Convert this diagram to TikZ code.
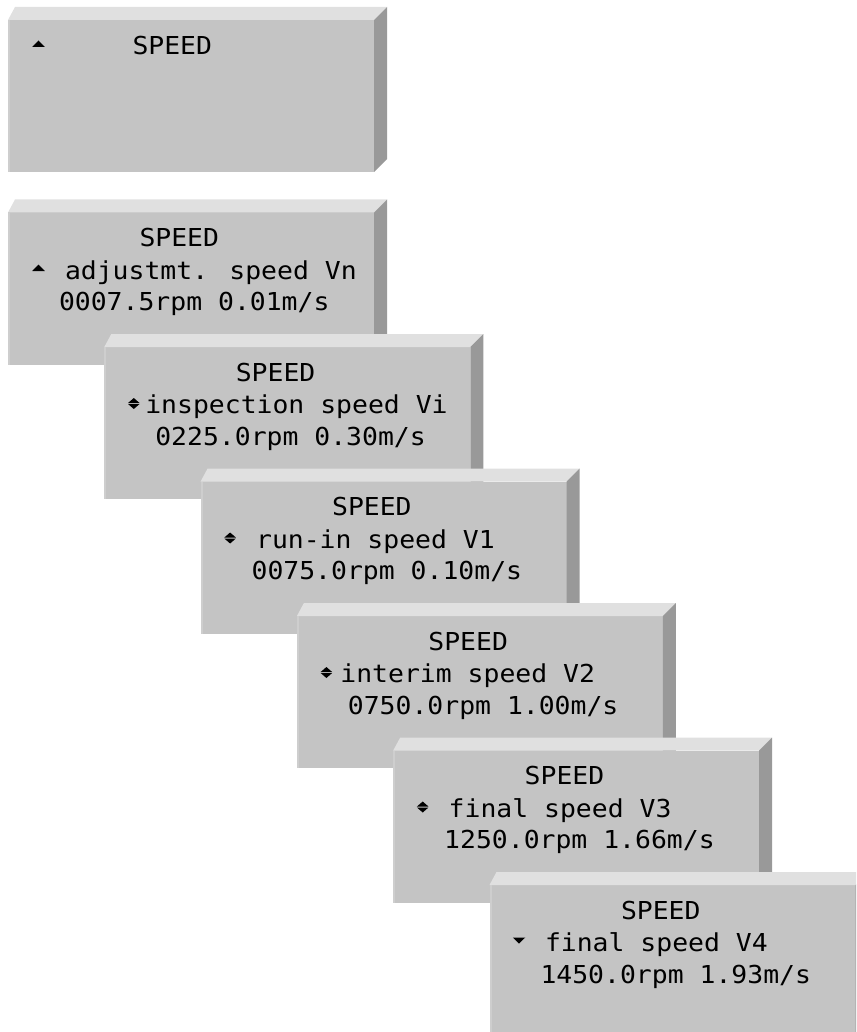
\documentclass[tikz,border=0pt]{standalone}
\usepackage{fontspec}
\newfontfamily\lcd{DejaVu Sans Mono}[FakeStretch=1.07]
\definecolor{frontc}{RGB}{196,196,196}
\definecolor{topc}{RGB}{224,224,224}
\definecolor{sidec}{RGB}{153,153,153}
\definecolor{edgec}{RGB}{206,206,206}
\tikzset{
  front/.style={fill=frontc, draw=none, minimum width=366pt, minimum height=152pt,
    inner sep=0pt, outer sep=0pt, anchor=north west},
  lcdtext/.style={anchor=base west, inner sep=0pt, outer sep=0pt,
    font=\lcd\fontsize{24.7}{30}\selectfont},
  topface/.style={fill=topc},
  sideface/.style={fill=sidec},
  tri/.style={fill=black},
}
\newcommand\lcdpanel[1]{%
  \node[front] (#1) at (0,0) {};
  \fill[topface] (#1.north west) -- ++(7,-13) -- ([shift={(13,-13)}]#1.north east) -- (#1.north east) -- cycle;
  \fill[sideface] (#1.north east) -- ++(13,-13) -- ([shift={(13,-13)}]#1.south east) -- (#1.south east) -- cycle;
  \fill[edgec] (#1.north west) rectangle ([xshift=2pt]#1.south west);
}
% arrows: #1 = x centre, #2 = baseline
\newcommand\uptri[2]{\fill[tri] (#1-6.25,#2-8) -- (#1+6.25,#2-8) -- (#1,#2-14.5) -- cycle;}
\newcommand\dntri[2]{\fill[tri] (#1-6.25,#2-14) -- (#1+6.25,#2-14) -- (#1,#2-8) -- cycle;}
\newcommand\updntri[2]{%
  \fill[tri] (#1-5.75,#2-10.5) -- (#1+5.75,#2-10.5) -- (#1,#2-15.5) -- cycle;
  \fill[tri] (#1-5.75,#2-9.5) -- (#1+5.75,#2-9.5) -- (#1,#2-4.5) -- cycle;}
\begin{document}
\begin{tikzpicture}[x=1pt,y=-1pt]
\useasboundingbox (0,0) rectangle (856,1032);
\clip (0,0) rectangle (856,1032);
% panel 1
\begin{scope}[shift={(8,20)}]
  \lcdpanel{p1}
  \uptri{30.5}{35}
  \node[lcdtext] (p1a) at (124.5,35) {SPEED};
\end{scope}
% panel 2
\begin{scope}[shift={(8,212.5)}]
  \lcdpanel{p2}
  \node[lcdtext] (p2a) at (131.5,34) {SPEED};
  \uptri{30.5}{66.5}
  \node[lcdtext] (p2b) at (57,66.5) {adjustmt. speed Vn};
  \node[lcdtext] (p2c) at (51,98) {0007.5rpm 0.01m/s};
\end{scope}
% panel 3
\begin{scope}[shift={(104.3,347)}]
  \lcdpanel{p3}
  \node[lcdtext] (p3a) at (131.5,34) {SPEED};
  \updntri{29.5}{66.5}
  \node[lcdtext] (p3b) at (41,66.5) {inspection speed Vi};
  \node[lcdtext] (p3c) at (51,98) {0225.0rpm 0.30m/s};
\end{scope}
% panel 4
\begin{scope}[shift={(200.6,481.5)}]
  \lcdpanel{p4}
  \node[lcdtext] (p4a) at (131.5,34) {SPEED};
  \updntri{29.5}{66.5}
  \node[lcdtext] (p4b) at (55.5,66.5) {run-in speed V1};
  \node[lcdtext] (p4c) at (51,98) {0075.0rpm 0.10m/s};
\end{scope}
% panel 5
\begin{scope}[shift={(296.9,616)}]
  \lcdpanel{p5}
  \node[lcdtext] (p5a) at (131.5,34) {SPEED};
  \updntri{29.5}{66.5}
  \node[lcdtext] (p5b) at (43.5,66.5) {interim speed V2};
  \node[lcdtext] (p5c) at (51,98) {0750.0rpm 1.00m/s};
\end{scope}
% panel 6
\begin{scope}[shift={(393.2,750.5)}]
  \lcdpanel{p6}
  \node[lcdtext] (p6a) at (131.5,34) {SPEED};
  \updntri{29.5}{66.5}
  \node[lcdtext] (p6b) at (55.5,66.5) {final speed V3};
  \node[lcdtext] (p6c) at (51,98) {1250.0rpm 1.66m/s};
\end{scope}
% panel 7
\begin{scope}[shift={(489.5,885)}]
  \lcdpanel{p7}
  \node[lcdtext] (p7a) at (131.5,34) {SPEED};
  \dntri{29.5}{66.5}
  \node[lcdtext] (p7b) at (55.5,66.5) {final speed V4};
  \node[lcdtext] (p7c) at (51,98) {1450.0rpm 1.93m/s};
\end{scope}
\end{tikzpicture}
\end{document}
